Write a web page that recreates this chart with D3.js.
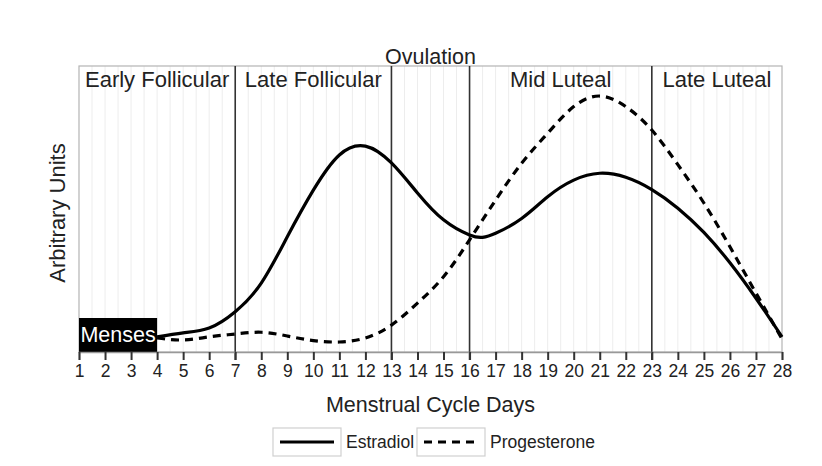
<!DOCTYPE html>
<html>
<head>
<meta charset="utf-8">
<script src="https://cdn.jsdelivr.net/npm/d3@7"></script>
<style>
  body { margin: 0; background: #fff; }
  text { font-family: "Liberation Sans", Arial, sans-serif; fill: #222; }
</style>
</head>
<body>
<script>
// days along the x axis
var dayTicks = d3.range(1, 29);

// estradiol curve (arbitrary units)
var estradiolDays = [4, 5, 6, 7, 8, 9, 10, 11, 12, 13, 14, 15, 16, 16.5, 17, 18, 19, 20, 21, 22, 23, 24, 25, 26, 27, 28];
var estradiolVals = [5.3, 6.7, 8.4, 14.1, 24.1, 40.3, 56.6, 68.9, 72.0, 66.1, 55.6, 46.2, 40.9, 40.1, 41.5, 46.7, 54.3, 60.1, 62.5, 61.1, 56.8, 50.3, 41.8, 31.2, 18.8, 5.3];

// progesterone curve
var progDays = [4, 5, 6, 7, 8, 9, 10, 11, 12, 13, 14, 15, 16, 17, 18, 19, 20, 21, 22, 23, 24, 25, 26, 27, 28];
var progVals = [4.9, 4.2, 5.3, 6.3, 6.9, 5.6, 4.0, 3.5, 4.9, 9.4, 17.1, 26.3, 39.2, 53.1, 66.0, 76.5, 85.8, 89.5, 85.8, 77.6, 65.5, 52.1, 36.8, 20.6, 4.6];

// phases
var phaseNames = ["Early Follicular", "Late Follicular", "Mid Luteal", "Late Luteal"];
var phaseStart = [1, 7, 16, 23];
var phaseEnd = [7, 13, 23, 28];
var dividers = [7, 13, 16, 23];
var ovulation = [13, 16];
var menses = [1, 4];

var svgWidth = 822, svgHeight = 466;
var svg = d3.select("body").append("svg")
            .attr("width", svgWidth)
            .attr("height", svgHeight);

var x = d3.scaleLinear().domain([1, 28]).range([79, 782]);
var y = d3.scaleLinear().domain([0, 100]).range([352, 66]);

// light half-day grid
var grid = d3.range(1.5, 28, 0.5);
svg.append("g").selectAll("line")
   .data(grid)
   .enter().append("line")
   .attr("x1", function(d) { return x(d); })
   .attr("x2", function(d) { return x(d); })
   .attr("y1", y(100))
   .attr("y2", y(0))
   .attr("stroke", "#ededed")
   .attr("stroke-width", 1);

// plot frame
svg.append("rect")
   .attr("x", x(1)).attr("y", y(100))
   .attr("width", x(28) - x(1)).attr("height", y(0) - y(100))
   .attr("fill", "none")
   .attr("stroke", "#b4b4b4")
   .attr("stroke-width", 1.2);

// menses box
svg.append("rect")
   .attr("x", x(menses[0])).attr("y", y(0) - 34)
   .attr("width", x(menses[1]) - x(menses[0])).attr("height", 34)
   .attr("fill", "#000");
svg.append("text")
   .attr("x", (x(menses[0]) + x(menses[1])) / 2)
   .attr("y", y(0) - 10)
   .attr("text-anchor", "middle")
   .style("font-size", "21.5px")
   .style("fill", "#fff")
   .text("Menses");

// phase divider lines
svg.append("g").selectAll("line")
   .data(dividers)
   .enter().append("line")
   .attr("x1", function(d) { return x(d); })
   .attr("x2", function(d) { return x(d); })
   .attr("y1", y(100))
   .attr("y2", y(0) + 8)
   .attr("stroke", "#333")
   .attr("stroke-width", 1.6);

// x axis
var xAxis = d3.axisBottom(x)
              .tickValues(dayTicks)
              .tickSize(8)
              .tickPadding(5)
              .tickFormat(d3.format("d"));
var ax = svg.append("g")
            .attr("transform", "translate(0," + y(0) + ")")
            .call(xAxis);
ax.select(".domain").attr("stroke", "#999").attr("stroke-width", 1.5);
ax.selectAll(".tick line").attr("stroke", "#333").attr("stroke-width", 2);
ax.selectAll(".tick text")
  .style("font-size", "17.5px")
  .style("font-family", "'Liberation Sans', Arial, sans-serif")
  .attr("fill", "#222");

// phase labels
svg.append("g").selectAll("text")
   .data(phaseNames)
   .enter().append("text")
   .attr("x", function(d, i) { return (x(phaseStart[i]) + x(phaseEnd[i])) / 2; })
   .attr("y", 87)
   .attr("text-anchor", "middle")
   .style("font-size", "22px")
   .text(function(d) { return d; });

svg.append("text")
   .attr("x", (x(ovulation[0]) + x(ovulation[1])) / 2)
   .attr("y", 64)
   .attr("text-anchor", "middle")
   .style("font-size", "21.5px")
   .text("Ovulation");

// curves - natural spline keeps them smooth like the drawn original
var line = d3.line()
             .x(function(d) { return x(d[0]); })
             .y(function(d) { return y(d[1]); })
             .curve(d3.curveNatural);

svg.append("path")
   .datum(progDays.map(function(d, i) { return [d, progVals[i]]; }))
   .attr("d", line)
   .attr("fill", "none")
   .attr("stroke", "#000")
   .attr("stroke-width", 3.2)
   .attr("stroke-dasharray", "8,6");

svg.append("path")
   .datum(estradiolDays.map(function(d, i) { return [d, estradiolVals[i]]; }))
   .attr("d", line)
   .attr("fill", "none")
   .attr("stroke", "#000")
   .attr("stroke-width", 3.2);

// axis titles
svg.append("text")
   .attr("x", (x(1) + x(28)) / 2)
   .attr("y", 412)
   .attr("text-anchor", "middle")
   .style("font-size", "21.5px")
   .text("Menstrual Cycle Days");

svg.append("text")
   .attr("transform", "translate(65," + 213 + ") rotate(-90)")
   .attr("text-anchor", "middle")
   .style("font-size", "22px")
   .text("Arbitrary Units");

// legend
var legendNames = ["Estradiol", "Progesterone"];
var legendDash = [null, "8,6"];
var legendX = [273, 417];
var lg = svg.append("g").selectAll("g")
            .data(legendNames)
            .enter().append("g")
            .attr("transform", function(d, i) { return "translate(" + legendX[i] + ",428)"; });
lg.append("rect")
  .attr("width", 68).attr("height", 28)
  .attr("fill", "#fff")
  .attr("stroke", "#d0d0d0")
  .attr("stroke-width", 1.2);
lg.append("line")
  .attr("x1", 7).attr("x2", 61)
  .attr("y1", 14).attr("y2", 14)
  .attr("stroke", "#000")
  .attr("stroke-width", 3.2)
  .attr("stroke-dasharray", function(d, i) { return legendDash[i]; });
lg.append("text")
  .attr("x", 73).attr("y", 20)
  .style("font-size", "17.5px")
  .text(function(d) { return d; });
</script>
</body>
</html>
